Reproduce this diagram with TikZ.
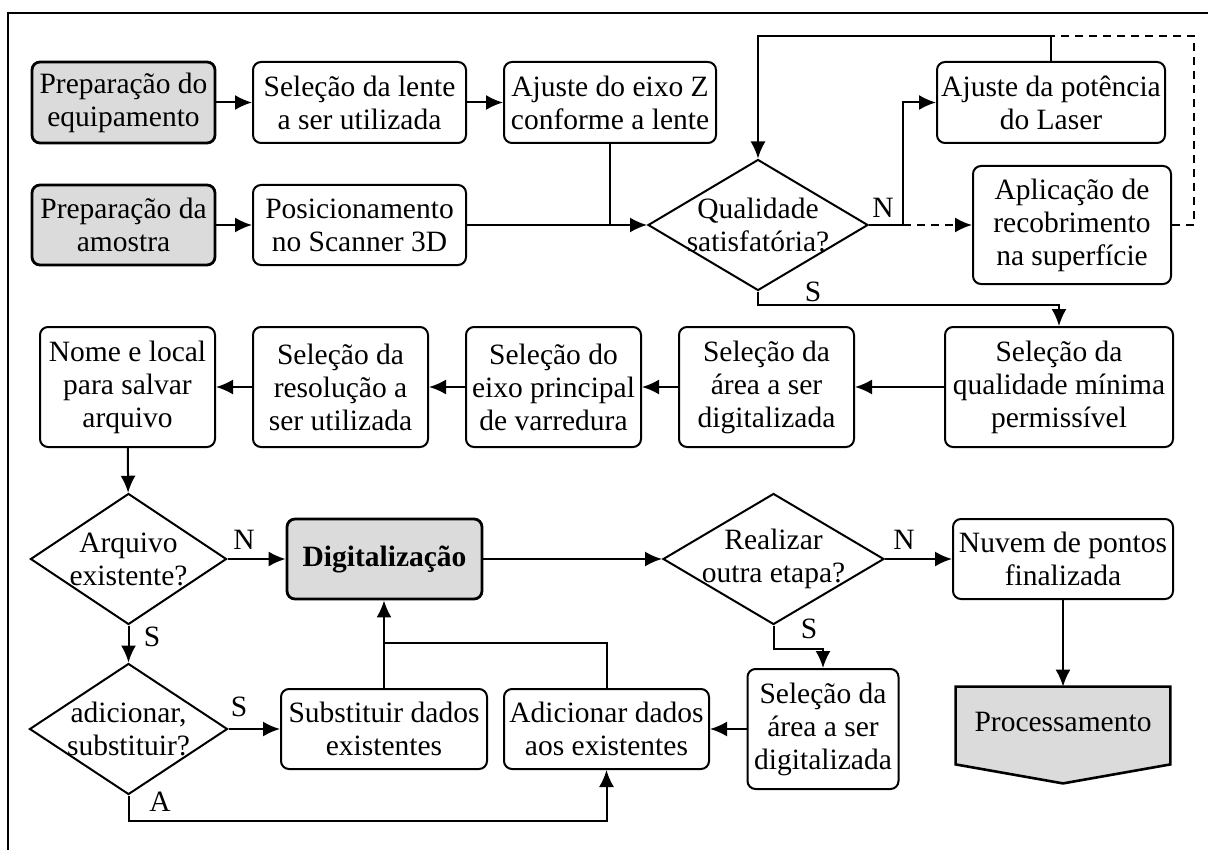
\documentclass[tikz,border=0pt]{standalone}
\usepackage{fontspec}
\setmainfont{Liberation Serif}
\usepackage{tikz}
\usetikzlibrary{arrows.meta,shapes.geometric}
\newcommand{\flowfont}{\fontsize{14.75}{16.5}\selectfont}
\tikzset{
  stepbox/.style={
    rectangle,
    draw=black,
    line width=1pt,
    rounded corners=4pt,
    align=center,
    inner sep=0pt,
    font=\flowfont
  },
  startbox/.style={
    stepbox,
    fill=black!14,
    line width=1.4pt
  },
  decision/.style={
    diamond,
    draw=black,
    line width=1pt,
    inner sep=0pt
  },
  decisiontext/.style={
    align=center,
    inner sep=0pt,
    font=\flowfont
  },
  answer/.style={
    inner sep=0pt,
    font=\flowfont
  },
  flow/.style={
    line width=1pt,
    -{Latex[length=8.5pt,width=7.5pt]}
  },
  plainline/.style={
    line width=1pt
  },
  optional/.style={
    flow,
    dash pattern=on 4pt off 3pt
  }
}

\begin{document}
\begin{tikzpicture}[x=0.5pt,y=-0.5pt]
  % Same size as the reference, in pixels
  \useasboundingbox (0,0) rectangle (1208,850);
  \draw[line width=1pt] (8,850) -- (8,13) -- (1208,13);

  % Preparation
  \node[startbox, minimum width=91.5pt, minimum height=40.5pt] (prepEq) at (123.5,102.5) {Preparação do\\equipamento};
  \node[stepbox, minimum width=106.5pt, minimum height=40.5pt] (lente) at (359.5,102.5) {Seleção da lente\\a ser utilizada};
  \node[stepbox, minimum width=106pt, minimum height=40.5pt] (eixoZ) at (610,102.5) {Ajuste do eixo Z\\conforme a lente};
  \node[stepbox, minimum width=114pt, minimum height=40.5pt] (pot) at (1051,102.5) {Ajuste da potência\\do Laser};
  \node[startbox, minimum width=91.5pt, minimum height=40pt] (prepAm) at (123.5,225) {Preparação da\\amostra};
  \node[stepbox, minimum width=106.5pt, minimum height=40pt] (posic) at (359.5,225) {Posicionamento\\no Scanner 3D};
  \node[decision, minimum width=110pt, minimum height=65.5pt] (qual) at (758,225) {};
  \node[decisiontext] (qual-t) at (qual) {Qualidade\\satisfatória?};
  \node[stepbox, minimum width=99pt, minimum height=59pt] (aplic) at (1072,225) {Aplicação de\\recobrimento\\na superfície};
  \coordinate (loopTop) at ([yshift=12.5pt]pot.north);

  % Scan settings
  \node[stepbox, minimum width=114pt, minimum height=60pt] (qualMin) at (1059,387) {Seleção da\\qualidade mínima\\permissível};
  \node[stepbox, minimum width=87.5pt, minimum height=60pt] (area1) at (766.5,387) {Seleção da\\área a ser\\digitalizada};
  \node[stepbox, minimum width=87.5pt, minimum height=60pt] (eixoP) at (553.5,387) {Seleção do\\eixo principal\\de varredura};
  \node[stepbox, minimum width=87.5pt, minimum height=60pt] (resol) at (340.5,387) {Seleção da\\resolução a\\ser utilizada};
  \node[stepbox, minimum width=87.5pt, minimum height=60pt] (nome) at (127.5,387) {Nome e local\\para salvar\\arquivo};

  % Scanning
  \node[decision, minimum width=98pt, minimum height=65.5pt] (arq) at (128.5,559) {};
  \node[decisiontext] (arq-t) at (arq) {Arquivo\\existente?};
  \node[startbox, font=\flowfont\bfseries, minimum width=97.5pt, minimum height=40pt] (digit) at (384.5,559) {Digitalização};
  \node[decision, minimum width=110.5pt, minimum height=65.5pt] (real) at (773.5,559) {};
  \node[decisiontext] (real-t) at (real) {Realizar\\outra etapa?};
  \node[stepbox, minimum width=110pt, minimum height=40pt] (nuvem) at (1063,559) {Nuvem de pontos\\finalizada};
  \node[decision, minimum width=99pt, minimum height=65.5pt] (adicD) at (128.5,729) {};
  \node[decisiontext] (adicD-t) at (adicD) {adicionar,\\substituir?};
  \node[stepbox, minimum width=103pt, minimum height=40pt] (subst) at (384,729) {Substituir dados\\existentes};
  \node[stepbox, minimum width=102.5pt, minimum height=40pt] (adic) at (606.5,729) {Adicionar dados\\aos existentes};
  \node[stepbox, minimum width=75.5pt, minimum height=60pt] (area2) at (823,729) {Seleção da\\área a ser\\digitalizada};
  \node[font=\flowfont, minimum width=107pt, minimum height=38.5pt, inner sep=0pt] (procN) at (1063,725.5) {};
  \draw[line width=1.3pt, fill=black!14] (procN.north west) -- (procN.north east) -- (procN.south east)
    -- ([yshift=-9.5pt]procN.south) -- (procN.south west) -- cycle;
  \node[font=\flowfont, inner sep=0pt] (proc-t) at ([yshift=2pt]procN.center) {Processamento};

  % Answers
  \node[answer] (qual-N) at (883,208) {N};
  \node[answer] (qual-S) at (813,292) {S};
  \node[answer] (arq-N) at (244,540) {N};
  \node[answer] (arq-S) at (152,637) {S};
  \node[answer] (adicD-S) at (239,707) {S};
  \node[answer] (adicD-A) at (160,802) {A};
  \node[answer] (real-N) at (904,540) {N};
  \node[answer] (real-S) at (809,629) {S};

  \draw[flow] (prepEq) -- (lente);
  \draw[flow] (lente) -- (eixoZ);
  \draw[flow] (prepAm) -- (posic);
  \draw[flow] (posic) -- (qual);
  \draw[plainline] (eixoZ.south) -- (eixoZ.south |- posic.east);
  \draw[flow] (qual.east) -- ++(34,0) |- (pot.west);
  \draw[optional] (qual.east) ++(34,0) -- (aplic.west);
  \draw[flow] (pot.north) -- (loopTop) -| (qual.north);
  \draw[plainline, dash pattern=on 4pt off 3pt] (aplic.east) -- ++(22,0) |- (loopTop);
  \draw[flow] (qual.south) -- ++(0,13) -| (qualMin.north);

  \draw[flow] (qualMin) -- (area1);
  \draw[flow] (area1) -- (eixoP);
  \draw[flow] (eixoP) -- (resol);
  \draw[flow] (resol) -- (nome);
  \draw[flow] (nome) -- (arq);

  \draw[flow] (arq) -- (digit);
  \draw[flow] (digit) -- (real);
  \draw[flow] (real) -- (nuvem);
  \draw[flow] (nuvem) -- (procN.north);
  \draw[flow] (real.south) -- ++(0,23) -| (area2.north);
  \draw[flow] (area2) -- (adic);
  \draw[flow] (arq) -- (adicD);
  \draw[flow] (adicD) -- (subst);
  \draw[flow] (adicD.south) -- ++(0,25) -| (adic.south);
  \draw[flow] (subst.north) -- (subst.north |- digit.south);
  \draw[plainline] (adic.north) -- ++(0,-45) -| (subst.north);
\end{tikzpicture}
\end{document}
